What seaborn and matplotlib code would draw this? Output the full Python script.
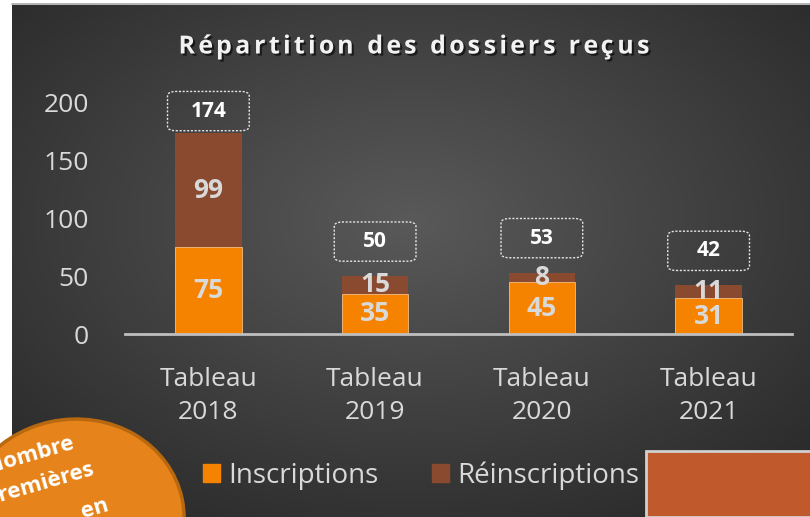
import numpy as np
import pandas as pd
import seaborn as sns
import matplotlib.pyplot as plt
import matplotlib.patches as mpatches
import matplotlib.patheffects as pe
from matplotlib.font_manager import FontProperties
from matplotlib.transforms import IdentityTransform

# Chart data
categories = ["Tableau\n2018", "Tableau\n2019", "Tableau\n2020", "Tableau\n2021"]
inscriptions = [75, 35, 45, 31]
reinscriptions = [99, 15, 8, 11]
totals = [a + b for a, b in zip(inscriptions, reinscriptions)]
title = "Répartition des dossiers reçus"

df = pd.DataFrame({"cat": categories, "ins": inscriptions,
                   "reins": reinscriptions, "total": totals})

sns.set_theme(style="white")
plt.rcParams["font.family"] = ["Open Sans", "DejaVu Sans"]

W, H = 810, 517
fig = plt.figure(figsize=(W / 100, H / 100), dpi=100)
fig.patch.set_facecolor("white")

# dark radial-gradient background of the slide chart
bg = fig.add_axes([12 / W, 0, 1 - 12 / W, (H - 5) / H], zorder=-5)
yy, xx = np.mgrid[0:256, 0:400]
cx, cy = 0.50 * 400, 0.42 * 256
r = np.sqrt(((xx - cx) / 400) ** 2 + ((yy - cy) / 256) ** 2)
r = np.clip(r / 0.75, 0, 1)
shade = 0.35 - 0.20 * r
bg.imshow(np.dstack([shade] * 3), aspect="auto", extent=[0, 1, 0, 1])
bg.set_axis_off()
fig.add_artist(plt.Line2D([12 / W, 1], [1 - 4 / H, 1 - 4 / H], color="#a6a6a6", lw=1.2))

# main axes
ax = fig.add_axes([125 / W, 1 - 334 / H, 667 / W, 231 / H])
ax.set_facecolor("none")
col_ins = "#F58300"
col_re = "#8A4A2F"
sns.barplot(data=df, x="cat", y="total", color=col_re, width=0.4, ax=ax,
            saturation=1, linewidth=0)
sns.barplot(data=df, x="cat", y="ins", color=col_ins, width=0.4, ax=ax,
            saturation=1, edgecolor="#ffcf99", linewidth=0.5)
ax.set_ylim(0, 200)
ax.set_xlim(-0.5, 3.5)
ax.set_yticks([0, 50, 100, 150, 200])
ax.set_xlabel("")
ax.set_ylabel("")
ax.tick_params(axis="both", length=0, colors="#d9d9d9", labelsize=19)
ax.tick_params(axis="y", pad=26)
ax.tick_params(axis="x", pad=24)
for lbl in ax.get_xticklabels():
    lbl.set_linespacing(1.42)
for s in ["top", "right", "left"]:
    ax.spines[s].set_visible(False)
ax.spines["bottom"].set_color("#bfbfbf")
ax.spines["bottom"].set_linewidth(2)

# segment labels
lab_kw = dict(ha="center", va="center", color="#d9d9d9", fontsize=19, fontweight="bold")
for i, (a, b) in enumerate(zip(inscriptions, reinscriptions)):
    ax.text(i, a / 2, str(a), **lab_kw)
    ax.text(i, a + b / 2, str(b), **lab_kw)

# total labels in dashed boxes
for i, t in enumerate(totals):
    ty = min(t + 30, 193)
    box = mpatches.FancyBboxPatch((i - 0.245, ty - 17), 0.49, 34,
                                  boxstyle="round,pad=0,rounding_size=0.05",
                                  mutation_aspect=80, fc="none", ec="#e6e6e6",
                                  ls=(0, (1.5, 1.2)), lw=1, clip_on=False)
    ax.add_patch(box)
    ax.text(i, ty, str(t), ha="center", va="center", color="white", fontsize=15,
            fontweight="bold", clip_on=False)

# title with letter spacing, drawn char by char
fp = FontProperties(family=["Open Sans", "DejaVu Sans"], weight="bold", size=18)
rend = fig.canvas.get_renderer()
def tw(s):
    return rend.get_text_width_height_descent(s, fp, ismath=False)[0]
spacing = 3.3
total_w = tw(title) + spacing * (len(title) - 1)
x0 = 414 - total_w / 2
shadow = [pe.withSimplePatchShadow(offset=(1.5, -1.5), shadow_rgbFace="black", alpha=0.6)]
for k, ch in enumerate(title):
    if ch == " ":
        continue
    xk = x0 + tw(title[:k] + "x") - tw("x") + spacing * k
    fig.text(xk / W, 1 - 47 / H, ch, ha="left", va="center", color="#f2f2f2",
             fontproperties=fp, path_effects=shadow)

# legend
handles = [mpatches.Patch(color=col_ins, label="Inscriptions"),
           mpatches.Patch(color=col_re, label="Réinscriptions")]
leg = fig.legend(handles=handles, loc="center", bbox_to_anchor=(421 / W, 1 - 476 / H),
                 ncol=2, frameon=False, fontsize=20, handlelength=0.62, handleheight=0.62,
                 handletextpad=0.3, columnspacing=1.9)
for txt in leg.get_texts():
    txt.set_color("#d9d9d9")

# overlapping slide shapes
idt = IdentityTransform()
ell = mpatches.Ellipse((72, H - 522), 225, 205, angle=12, fc="#E6831A", ec="#B8690F",
                       lw=2.5, transform=idt, zorder=10)
fig.add_artist(ell)
for txt, x, y in [("Nombre", 30, 455), ("premières", 40, 484), ("en", 95, 509)]:
    fig.text(x / W, 1 - y / H, txt, ha="center", va="center", color="white", fontsize=16,
             fontweight="bold", rotation=16, zorder=11)
rect = mpatches.Rectangle((646, 0), 170, H - 451, fc="#C05A2C", ec="#d0d0d0", lw=2,
                          transform=idt, zorder=10)
fig.add_artist(rect)

fig.savefig("out.png", dpi=100)
